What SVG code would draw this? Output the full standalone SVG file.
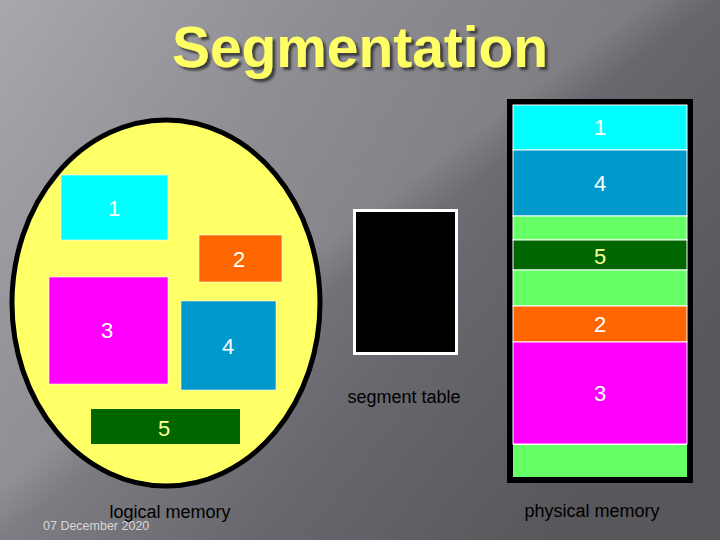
<svg xmlns="http://www.w3.org/2000/svg" width="720" height="540" viewBox="0 0 720 540">
  <defs>
    <linearGradient id="bg" x1="0" y1="0" x2="1" y2="0.6">
      <stop offset="0" stop-color="#a9a8ae"/>
      <stop offset="0.35" stop-color="#86858b"/>
      <stop offset="0.7" stop-color="#68676d"/>
      <stop offset="1" stop-color="#58575c"/>
    </linearGradient>
    <linearGradient id="streak" x1="0" y1="0" x2="1" y2="1">
      <stop offset="0" stop-color="#ffffff" stop-opacity="0"/>
      <stop offset="0.45" stop-color="#ffffff" stop-opacity="0.12"/>
      <stop offset="0.5" stop-color="#ffffff" stop-opacity="0"/>
      <stop offset="1" stop-color="#ffffff" stop-opacity="0"/>
    </linearGradient>
    <filter id="shadow" x="-10%" y="-10%" width="130%" height="140%">
      <feGaussianBlur in="SourceAlpha" stdDeviation="1"/>
      <feOffset dx="3" dy="3" result="o"/>
      <feFlood flood-color="#2a2a2a" flood-opacity="0.8"/>
      <feComposite in2="o" operator="in"/>
      <feMerge><feMergeNode/><feMergeNode in="SourceGraphic"/></feMerge>
    </filter>
  </defs>
  <style>
    .lbl { font-family: "Liberation Sans", Arial, sans-serif; font-size: 22px; text-anchor: middle; fill: #ffffff; }
    .y5 { fill: #ffff99; }
    .cap { font-family: "Liberation Sans", Arial, sans-serif; font-size: 18px; text-anchor: middle; fill: #000000; }
    .seg { stroke: #ffffff; stroke-opacity: 0.6; stroke-width: 1; }
    .band { stroke: #ffffff; stroke-width: 1; }
  </style>

  <rect x="0" y="0" width="720" height="540" fill="url(#bg)"/>
  <rect x="0" y="0" width="720" height="540" fill="url(#streak)"/>

  <g id="title">
    <text x="360" y="67" font-family="'Liberation Sans', Arial, sans-serif" font-size="58" font-weight="bold" fill="#ffff66" text-anchor="middle" textLength="376" lengthAdjust="spacingAndGlyphs" filter="url(#shadow)">Segmentation</text>
  </g>

  <g id="logical-memory">
    <ellipse cx="166" cy="303" rx="154" ry="183" fill="#ffff66" stroke="#000000" stroke-width="5"/>
    <g id="lseg1"><rect class="seg" x="61" y="175" width="107" height="65" fill="#00ffff"/><text class="lbl" x="114" y="216">1</text></g>
    <g id="lseg2"><rect class="seg" x="199" y="235" width="83" height="47" fill="#ff6600"/><text class="lbl" x="239" y="267">2</text></g>
    <g id="lseg3"><rect class="seg" x="49" y="277" width="119" height="107" fill="#ff00ff"/><text class="lbl" x="107" y="338">3</text></g>
    <g id="lseg4"><rect class="seg" x="181" y="301" width="95" height="89" fill="#0099cc"/><text class="lbl" x="228" y="354">4</text></g>
    <g id="lseg5"><rect x="91" y="409" width="149" height="35" fill="#006600"/><text class="lbl y5" x="164" y="436">5</text></g>
    <text class="cap" x="170" y="518">logical memory</text>
  </g>

  <g id="segment-table">
    <rect x="354.5" y="210.5" width="102" height="143" fill="#000000" stroke="#ffffff" stroke-width="3"/>
    <text class="cap" x="404" y="403">segment table</text>
  </g>

  <g id="physical-memory">
    <rect x="507" y="99" width="186" height="384" fill="#000000"/>
    <g id="p1"><rect class="band" x="513" y="105" width="174" height="45" fill="#00ffff"/><text class="lbl" x="600" y="135">1</text></g>
    <g id="p4"><rect class="band" x="513" y="150" width="174" height="66" fill="#0099cc"/><text class="lbl" x="600" y="191">4</text></g>
    <g id="pfree1"><rect class="band" x="513" y="216" width="174" height="24" fill="#66ff66"/></g>
    <g id="p5"><rect class="band" x="513" y="240" width="174" height="30" fill="#006600"/><text class="lbl y5" x="600" y="264">5</text></g>
    <g id="pfree2"><rect class="band" x="513" y="270" width="174" height="36" fill="#66ff66"/></g>
    <g id="p2"><rect class="band" x="513" y="306" width="174" height="36" fill="#ff6600"/><text class="lbl" x="600" y="332">2</text></g>
    <g id="p3"><rect class="band" x="513" y="342" width="174" height="102" fill="#ff00ff"/><text class="lbl" x="600" y="401">3</text></g>
    <g id="pfree3"><rect x="513" y="444.5" width="174" height="32.5" fill="#66ff66"/><line x1="513" y1="444.5" x2="687" y2="444.5" stroke="#ffffff"/></g>
    <text class="cap" x="592" y="517">physical memory</text>
  </g>

  <g id="connectors"/>

  <text x="43" y="530" font-family="'Liberation Sans', Arial, sans-serif" font-size="12.5" fill="#d8d8d8">07 December 2020</text>
</svg>
